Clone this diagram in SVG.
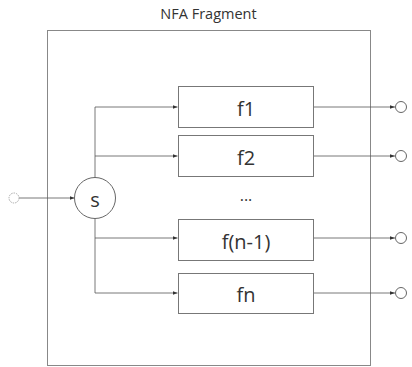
<svg xmlns="http://www.w3.org/2000/svg" width="412" height="367" viewBox="0 0 412 367">
<style>
.frame{fill:#fff;stroke:#888;stroke-width:1}
.box{fill:#fff;stroke:#777;stroke-width:1}
.lbl{font-family:"Open Sans",sans-serif;font-size:20px;fill:#333;text-anchor:middle;dominant-baseline:central}
.title{font-family:"Open Sans",sans-serif;font-size:14.5px;fill:#333;text-anchor:middle}
.edge{fill:none;stroke:#555;stroke-width:0.8}
.end{fill:#fff;stroke:#666;stroke-width:1}
</style>
<defs>
<marker id="ah" viewBox="0 0 6 6" refX="6" refY="3" markerWidth="5" markerHeight="5" orient="auto" markerUnits="userSpaceOnUse">
<path d="M0,0.8 L6,3 L0,5.2 z" fill="#333"/>
</marker>
</defs>
<text class="title" x="208.5" y="18.5">NFA Fragment</text>
<rect class="frame" x="47.5" y="30.5" width="323" height="335"/>
<g id="connectors">
<line class="edge" x1="19" y1="198" x2="74.5" y2="198" marker-end="url(#ah)"/>
<polyline class="edge" points="95,177.5 95,107 177.5,107" marker-end="url(#ah)"/>
<polyline class="edge" points="95,156 177.5,156" marker-end="url(#ah)"/>
<polyline class="edge" points="95,218.5 95,293 177.5,293" marker-end="url(#ah)"/>
<polyline class="edge" points="95,238 177.5,238" marker-end="url(#ah)"/>
<line class="edge" x1="313" y1="107" x2="395" y2="107" marker-end="url(#ah)"/>
<line class="edge" x1="313" y1="156" x2="395" y2="156" marker-end="url(#ah)"/>
<line class="edge" x1="313" y1="238" x2="395" y2="238" marker-end="url(#ah)"/>
<line class="edge" x1="313" y1="293" x2="395" y2="293" marker-end="url(#ah)"/>
</g>
<g id="start"><circle cx="14" cy="198" r="5" fill="#fff" stroke="#aaa" stroke-width="1" stroke-dasharray="1.5,1"/></g>
<g id="s"><circle cx="95" cy="198" r="20.5" class="end"/><text class="lbl" x="95" y="199">s</text></g>
<g id="f1"><rect class="box" x="178.5" y="86.5" width="135" height="41"/><text class="lbl" x="246" y="108">f1</text></g>
<g id="f2"><rect class="box" x="178.5" y="135.5" width="135" height="41"/><text class="lbl" x="246" y="157">f2</text></g>
<g id="dots"><text class="lbl" x="246" y="195" style="font-size:16px">...</text></g>
<g id="fn1"><rect class="box" x="178.5" y="219.5" width="135" height="41"/><text class="lbl" x="246" y="241">f(n-1)</text></g>
<g id="fn"><rect class="box" x="178.5" y="273.5" width="135" height="40"/><text class="lbl" x="246" y="294">fn</text></g>
<g id="out1"><circle class="end" cx="401" cy="107" r="5.5"/></g>
<g id="out2"><circle class="end" cx="401" cy="156" r="5.5"/></g>
<g id="out3"><circle class="end" cx="401" cy="238" r="5.5"/></g>
<g id="out4"><circle class="end" cx="401" cy="293" r="5.5"/></g>
</svg>
